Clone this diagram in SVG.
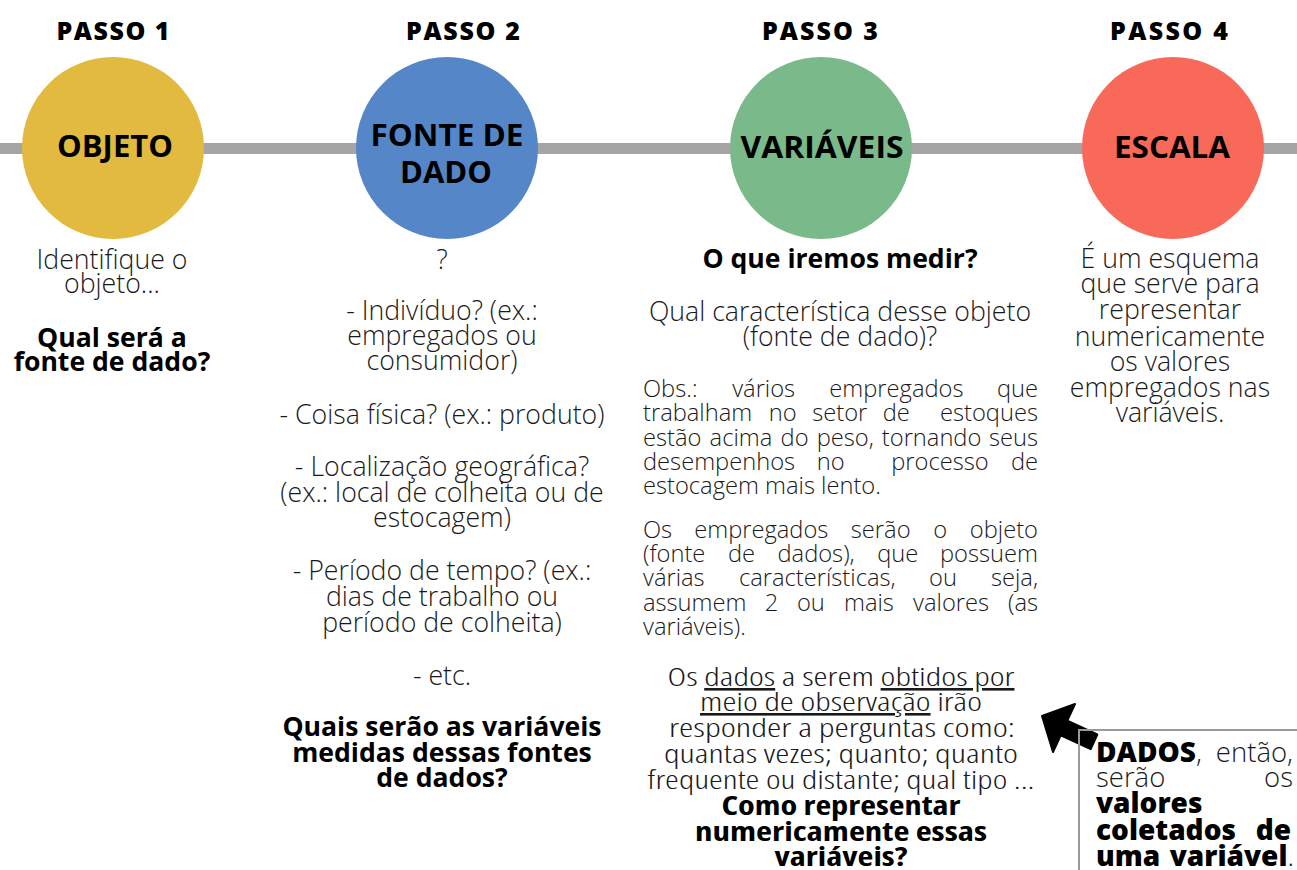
<svg xmlns="http://www.w3.org/2000/svg" width="1297" height="870" viewBox="0 0 1297 870">
<style>
.bg{fill:#ffffff}
.passo{font-family:"Open Sans","DejaVu Sans",sans-serif;font-weight:800;font-size:25px;fill:#000;text-anchor:middle;letter-spacing:4px}
.lbl{font-family:"Open Sans","DejaVu Sans",sans-serif;font-weight:700;font-size:31px;fill:#000;text-anchor:middle}
.t{font-family:"Open Sans","DejaVu Sans",sans-serif;font-weight:300;font-size:26.7px;fill:#1a1a1a;text-anchor:middle}
.o{font-family:"Open Sans","DejaVu Sans",sans-serif;font-weight:300;font-size:23.7px;fill:#1a1a1a}
.b{font-family:"Open Sans","DejaVu Sans",sans-serif;font-weight:700;font-size:26.6px;fill:#000;text-anchor:middle}
.c{font-family:"Open Sans","DejaVu Sans",sans-serif;font-weight:300;font-size:26px;fill:#1a1a1a;text-anchor:middle;font-stretch:condensed}
.cb{font-family:"Open Sans","DejaVu Sans",sans-serif;font-weight:700;font-size:26px;fill:#000;text-anchor:middle;font-stretch:condensed}
.d{font-family:"Open Sans","DejaVu Sans",sans-serif;font-weight:300;font-size:27.5px;fill:#1a1a1a}
.db{font-weight:800;font-size:28px;fill:#000}
.s{text-anchor:start}.m{text-anchor:middle}.e{text-anchor:end}
.u{text-decoration:underline}
</style>
<rect class="bg" x="0" y="0" width="1297" height="870"/>
<g id="connectors">
<line x1="0" y1="148.5" x2="1297" y2="148.5" stroke="#a5a5a5" stroke-width="11"/>
<polygon points="1042,716 1075,704 1067.3,720.7 1097.3,734.5 1090.7,749.1 1060.7,735.3 1053,752" fill="#000" stroke="#000" stroke-width="2" stroke-linejoin="round"/>
</g>
<g id="headings">
<text class="passo" x="115" y="40" textLength="117" lengthAdjust="spacing">PASSO 1</text>
<text class="passo" x="465" y="40" textLength="118" lengthAdjust="spacing">PASSO 2</text>
<text class="passo" x="822" y="40" textLength="120" lengthAdjust="spacing">PASSO 3</text>
<text class="passo" x="1171" y="40" textLength="122" lengthAdjust="spacing">PASSO 4</text>
</g>
<g id="node-objeto">
<circle cx="113" cy="148" r="91" fill="#e2ba3f"/>
<text class="lbl" x="115" y="157" textLength="116" lengthAdjust="spacingAndGlyphs">OBJETO</text>
</g>
<g id="node-fonte">
<circle cx="447" cy="148" r="91" fill="#5586c8"/>
<text class="lbl" x="447" y="146" textLength="153" lengthAdjust="spacingAndGlyphs">FONTE DE</text>
<text class="lbl" x="446" y="183" textLength="92" lengthAdjust="spacingAndGlyphs">DADO</text>
</g>
<g id="node-variaveis">
<circle cx="821" cy="148" r="91" fill="#79b98a"/>
<text class="lbl" x="822" y="158" textLength="163" lengthAdjust="spacingAndGlyphs">VARIÁVEIS</text>
</g>
<g id="node-escala">
<circle cx="1173" cy="148" r="91" fill="#f8695a"/>
<text class="lbl" x="1172" y="158" textLength="116" lengthAdjust="spacingAndGlyphs">ESCALA</text>
</g>
<g id="text-col1">
<text class="t" x="112" y="269">Identifique o</text>
<text class="t" x="112" y="293">objeto...</text>
<text class="b" x="112" y="347">Qual será a</text>
<text class="b" x="112" y="371">fonte de dado?</text>
</g>
<g id="text-col2">
<text class="t" x="442" y="269">?</text>
<text class="t" x="442" y="320">- Indivíduo? (ex.:</text>
<text class="t" x="442" y="345">empregados ou</text>
<text class="t" x="442" y="370">consumidor)</text>
<text class="t" x="442" y="424">- Coisa física? (ex.: produto)</text>
<text class="t" x="442" y="476">- Localização geográfica?</text>
<text class="t" x="442" y="502">(ex.: local de colheita ou de</text>
<text class="t" x="442" y="527">estocagem)</text>
<text class="t" x="442" y="580">- Período de tempo? (ex.:</text>
<text class="t" x="442" y="606">dias de trabalho ou</text>
<text class="t" x="442" y="632">período de colheita)</text>
<text class="t" x="442" y="685">- etc.</text>
<text class="b" x="442" y="736">Quais serão as variáveis</text>
<text class="b" x="442" y="762">medidas dessas fontes</text>
<text class="b" x="442" y="787">de dados?</text>
</g>
<g id="text-col3">
<text class="b" x="840" y="268">O que iremos medir?</text>
<text class="t" x="840" y="321">Qual característica desse objeto</text>
<text class="t" x="840" y="346">(fonte de dado)?</text>
<text class="o" y="397"><tspan class="s" x="643">Obs.:</tspan><tspan class="m" x="763.7">vários</tspan><tspan class="m" x="896.4">empregados</tspan><tspan class="e" x="1038">que</tspan></text>
<text class="o" y="421"><tspan class="s" x="643">trabalham</tspan><tspan class="m" x="782.6">no</tspan><tspan class="m" x="839.7">setor</tspan><tspan class="m" x="896.2">de</tspan><tspan class="e" x="1038">estoques</tspan></text>
<text class="o" y="446"><tspan class="s" x="643">estão</tspan><tspan class="m" x="740.9">acima</tspan><tspan class="m" x="794.6">do</tspan><tspan class="m" x="845.3">peso,</tspan><tspan class="m" x="931.6">tornando</tspan><tspan class="e" x="1038">seus</tspan></text>
<text class="o" y="470"><tspan class="s" x="643">desempenhos</tspan><tspan class="m" x="830.8">no</tspan><tspan class="m" x="939.9">processo</tspan><tspan class="e" x="1038">de</tspan></text>
<text class="o s" x="643" y="494">estocagem mais lento.</text>
<text class="o" y="538"><tspan class="s" x="643">Os</tspan><tspan class="m" x="761.3">empregados</tspan><tspan class="m" x="880.7">serão</tspan><tspan class="m" x="940.3">o</tspan><tspan class="e" x="1038">objeto</tspan></text>
<text class="o" y="562"><tspan class="s" x="643">(fonte</tspan><tspan class="m" x="741.5">de</tspan><tspan class="m" x="816.1">dados),</tspan><tspan class="m" x="897.7">que</tspan><tspan class="e" x="1038">possuem</tspan></text>
<text class="o" y="586"><tspan class="s" x="643">várias</tspan><tspan class="m" x="817.3">características,</tspan><tspan class="m" x="943">ou</tspan><tspan class="e" x="1038">seja,</tspan></text>
<text class="o" y="611"><tspan class="s" x="643">assumem</tspan><tspan class="m" x="771.6">2</tspan><tspan class="m" x="810.9">ou</tspan><tspan class="m" x="868.9">mais</tspan><tspan class="m" x="951.1">valores</tspan><tspan class="e" x="1038">(as</tspan></text>
<text class="o s" x="643" y="635">variáveis).</text>
<text class="c" x="841" y="686" textLength="347" lengthAdjust="spacingAndGlyphs">Os <tspan class="u">dados</tspan> a serem <tspan class="u">obtidos por</tspan></text>
<text class="c" x="841" y="711" textLength="282" lengthAdjust="spacingAndGlyphs"><tspan class="u">meio de observação</tspan> irão</text>
<text class="c" x="842" y="737" textLength="346" lengthAdjust="spacingAndGlyphs">responder a perguntas como:</text>
<text class="c" x="841" y="763" textLength="354" lengthAdjust="spacingAndGlyphs">quantas vezes; quanto; quanto</text>
<text class="c" x="841" y="789" textLength="387" lengthAdjust="spacingAndGlyphs">frequente ou distante; qual tipo ...</text>
<text class="cb" x="841" y="815" textLength="239" lengthAdjust="spacingAndGlyphs">Como representar</text>
<text class="cb" x="841" y="841" textLength="292" lengthAdjust="spacingAndGlyphs">numericamente essas</text>
<text class="cb" x="841" y="866" textLength="133" lengthAdjust="spacingAndGlyphs">variáveis?</text>
</g>
<g id="text-col4">
<text class="t" x="1170" y="268">É um esquema</text>
<text class="t" x="1170" y="293">que serve para</text>
<text class="t" x="1170" y="319">representar</text>
<text class="t" x="1170" y="346">numericamente</text>
<text class="t" x="1170" y="371">os valores</text>
<text class="t" x="1170" y="397">empregados nas</text>
<text class="t" x="1170" y="422">variáveis.</text>
</g>
<g id="node-dados">
<path d="M1079,870 V730 H1297" fill="none" stroke="#9a9a9a" stroke-width="2"/>
<text class="d" y="762"><tspan class="s" x="1096"><tspan class="db">DADOS</tspan>,</tspan><tspan class="e" x="1293">então,</tspan></text>
<text class="d" y="787"><tspan class="s" x="1096">serão</tspan><tspan class="e" x="1293">os</tspan></text>
<text class="d db" x="1096" y="813">valores</text>
<text class="d db" y="840"><tspan class="s" x="1096">coletados</tspan><tspan class="e" x="1291">de</tspan></text>
<text class="d" y="866"><tspan class="s db" x="1096">uma</tspan><tspan class="e" x="1294"><tspan class="db">variável</tspan>.</tspan></text>
</g>
</svg>
